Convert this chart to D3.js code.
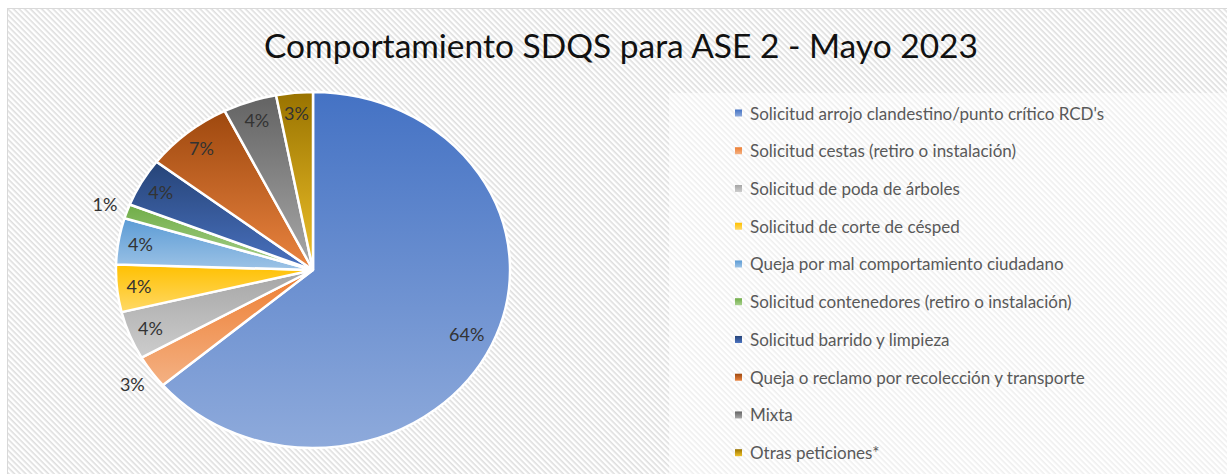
<!DOCTYPE html>
<html>
<head>
<meta charset="utf-8">
<script src="https://cdn.jsdelivr.net/npm/d3@7"></script>
<style>
  body { margin: 0; background: #fff; }
  svg { display: block; }
</style>
</head>
<body>
<svg id="chart" width="1227" height="474"></svg>
<script>
// data (percent of requests)
const categories = [
  "Solicitud arrojo clandestino/punto crítico RCD's",
  "Solicitud cestas (retiro o instalación)",
  "Solicitud de poda de árboles",
  "Solicitud de corte de césped",
  "Queja por mal comportamiento ciudadano",
  "Solicitud contenedores (retiro o instalación)",
  "Solicitud barrido y limpieza",
  "Queja o reclamo por recolección y transporte",
  "Mixta",
  "Otras peticiones*"
];
const values = [63.8, 3.0, 4.4, 4.3, 4.2, 1.3, 4.4, 7.2, 4.4, 3.0];
const title = "Comportamiento SDQS para ASE 2 - Mayo 2023";

// gradient palette (top, bottom)
const colorsTop = ["#4472c4", "#ed7d31", "#a5a5a5", "#ffc000", "#5b9bd5", "#70ad47", "#264478", "#9e480e", "#636363", "#997300"];
const colorsBottom = ["#8eaadb", "#f4b183", "#cdcdcd", "#ffd966", "#9dc3e6", "#a9d18e", "#4a72c0", "#ea8440", "#a9a9a9", "#f0c22a"];
const outsideLabels = [1, 5];

const svg = d3.select("#chart");
const W = 1227, H = 474;
const defs = svg.append("defs");

// hatched chart background
const hatch = defs.append("pattern")
  .attr("id", "hatch")
  .attr("patternUnits", "userSpaceOnUse")
  .attr("width", 4).attr("height", 4)
  .attr("patternTransform", "rotate(45)");
hatch.append("rect").attr("width", 4).attr("height", 4).attr("fill", "#fff");
hatch.append("rect").attr("width", 4).attr("height", 1.6).attr("fill", "#dedede");

svg.append("rect")
  .attr("x", 7.5).attr("y", 8.5)
  .attr("width", W).attr("height", H)
  .attr("fill", "url(#hatch)")
  .attr("stroke", "#d9d9d9");

// lighter legend panel
svg.append("rect")
  .attr("x", 669).attr("y", 93)
  .attr("width", W - 669).attr("height", H - 93)
  .attr("fill", "#fff").attr("fill-opacity", 0.5);

categories.forEach((c, i) => {
  const g = defs.append("linearGradient")
    .attr("id", "grad" + i)
    .attr("x1", 0).attr("y1", 0).attr("x2", 0).attr("y2", 1);
  g.append("stop").attr("offset", "0%").attr("stop-color", colorsTop[i]);
  g.append("stop").attr("offset", "100%").attr("stop-color", colorsBottom[i]);
});

// title
svg.append("text")
  .attr("x", 621).attr("y", 58)
  .attr("text-anchor", "middle")
  .attr("font-family", "Lato, 'Open Sans', sans-serif")
  .attr("font-size", 33.5)
  .attr("fill", "#111")
  .text(title);

// pie (the picture is stretched horizontally)
const cx = 313, cy = 270, R = 178, sx = 1.107;
const pie = d3.pie().sort(null).value(d => d.value);
const arcs = pie(categories.map((c, i) => ({ name: c, value: values[i], i })));
const arc = d3.arc().innerRadius(0).outerRadius(R);

svg.append("g")
  .attr("transform", `translate(${cx},${cy}) scale(${sx},1)`)
  .selectAll("path")
  .data(arcs)
  .join("path")
  .attr("d", arc)
  .attr("fill", d => `url(#grad${d.data.i})`)
  .attr("stroke", "#fff")
  .attr("stroke-width", 2.5)
  .attr("vector-effect", "non-scaling-stroke");

const total = d3.sum(values);
const fmt = d3.format(".0%");
const labelR = d => outsideLabels.includes(d.data.i) ? 199 : (d.data.i === 0 ? 153 : 158);
svg.append("g")
  .attr("font-family", "Lato, 'Open Sans', sans-serif")
  .attr("font-size", 18)
  .attr("fill", "#333")
  .attr("text-anchor", "middle")
  .attr("dominant-baseline", "central")
  .selectAll("text")
  .data(arcs)
  .join("text")
  .attr("x", d => cx + sx * labelR(d) * Math.sin((d.startAngle + d.endAngle) / 2))
  .attr("y", d => cy - labelR(d) * Math.cos((d.startAngle + d.endAngle) / 2))
  .text(d => fmt(d.data.value / total));

// legend
const rowY = d3.scalePoint().domain(d3.range(categories.length)).range([113, 452.7]);
const legend = svg.append("g")
  .selectAll("g")
  .data(categories)
  .join("g")
  .attr("transform", (d, i) => `translate(735,${rowY(i)})`);

legend.append("rect")
  .attr("x", 0).attr("y", -3.5)
  .attr("width", 7).attr("height", 7)
  .attr("fill", (d, i) => `url(#grad${i})`);

legend.append("text")
  .attr("x", 15).attr("y", 0)
  .attr("dominant-baseline", "central")
  .attr("font-family", "Lato, 'Open Sans', sans-serif")
  .attr("font-size", 17)
  .attr("fill", "#595959")
  .text(d => d);
</script>
</body>
</html>
